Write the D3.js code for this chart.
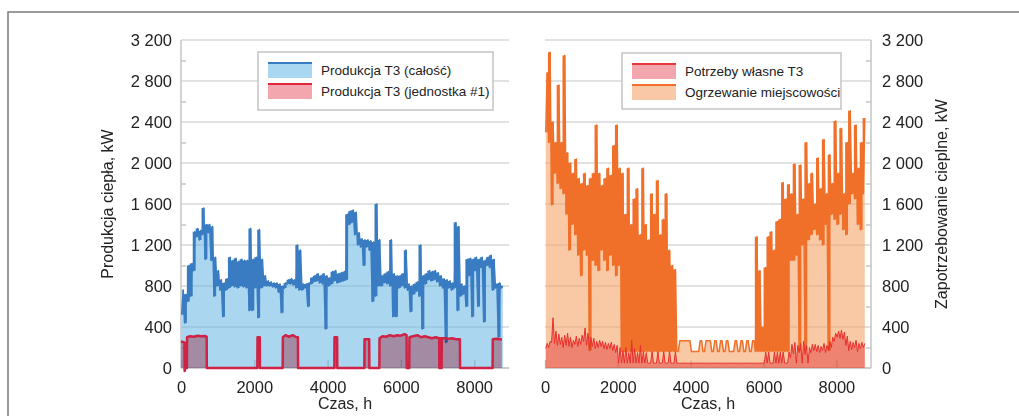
<!DOCTYPE html>
<html>
<head>
<meta charset="utf-8">
<script src="https://cdn.jsdelivr.net/npm/d3@7"></script>
<style>
  body { margin: 0; background: #fff; }
  svg { display: block; font-family: "Liberation Sans", Arial, sans-serif; }
</style>
</head>
<body>
<svg id="chart" width="1019" height="416"></svg>
<script>
// hourly data summarised as min / max per 80 h bin
const binHours = 80;
const yTicks = [0, 400, 800, 1200, 1600, 2000, 2400, 2800, 3200];
const yMinor = [200, 600, 1000, 1400, 1800, 2200, 2600, 3000];
const xTicks = [0, 2000, 4000, 6000, 8000];

// Produkcja T3 (całość)
const caloscLo = [520,440,650,700,950,1280,1250,1300,1060,1320,
  1050,700,800,760,500,760,780,800,790,780,
  800,790,780,560,560,780,490,780,800,800,
  800,790,780,740,540,780,820,820,810,780,
  760,760,780,600,820,840,850,830,820,380,
  800,820,850,830,840,850,860,1400,1420,1300,
  1200,1180,1000,1180,1150,650,700,800,800,830,
  820,800,500,500,780,800,780,760,550,720,
  750,700,380,820,860,850,860,840,800,780,
  250,780,760,780,560,700,720,600,900,500,
  950,600,980,450,1000,980,760,780,300,780];
const caloscHi = [760,720,1000,1020,1330,1360,1340,1560,1400,1400,
  1380,1080,950,860,830,870,1080,1050,1070,1040,
  1060,1050,1050,1360,1060,1080,1350,1060,900,850,
  840,830,830,820,800,830,860,870,860,1200,
  1150,820,820,830,880,900,920,900,920,900,
  880,940,950,920,930,940,1500,1530,1540,1520,
  1320,1260,1250,1250,1240,1230,1600,1250,900,920,
  940,1250,920,900,900,920,1150,820,800,820,
  840,1200,900,920,950,940,950,930,900,870,
  860,850,830,1420,1380,820,800,1060,1070,1060,
  1080,1060,1080,1050,1080,1100,1060,820,830,800];

// Produkcja T3 (jednostka #1)
const jedn1Hours = [0,95,100,110,160,165,250,350,450,550,
  650,700,705,2083,2088,2150,2155,2774,2779,2850,
  2950,3050,3150,3190,3195,4184,4189,4260,4265,5003,
  5008,5135,5140,5412,5417,5500,5600,5700,5800,5900,
  6000,6100,6155,6160,6228,6233,6330,6450,6550,6650,
  6750,6850,6950,7045,7050,7060,7065,7100,7105,7112,
  7117,7200,7300,7400,7500,7610,7615,8502,8507,8600,
  8700,8755];
const jedn1Values = [258,250,-30,0,0,300,310,305,315,310,
  312,305,0,0,300,300,0,0,300,320,
  305,320,300,300,0,0,300,300,0,0,
  280,280,0,0,290,310,305,320,310,320,
  315,330,320,0,0,300,310,320,300,310,
  300,290,300,290,0,0,290,290,0,0,
  290,290,285,290,280,280,0,0,280,285,
  280,280];

// Ogrzewanie miejscowości
const ogrzLo = [2300,2200,1590,1900,1800,1750,1700,1500,1150,1400,
  1300,1100,900,1150,1100,170,1050,1000,950,1150,
  1050,950,1100,1000,900,1000,160,160,160,160,
  160,160,160,160,160,160,160,160,160,160,
  160,160,160,160,160,160,265,265,265,265,
  160,160,160,265,160,265,265,160,265,160,
  265,160,265,160,160,265,160,265,160,265,
  160,265,160,160,160,160,160,160,160,160,
  160,160,160,160,1050,1050,1100,170,1200,170,
  1250,1300,1350,1300,1250,1200,1400,170,1500,1450,
  1400,1500,1350,1300,1600,1700,1650,1400,1350,1700];
const ogrzHi = [2880,3080,2400,2200,2760,2200,3050,2100,2000,1900,
  2040,1850,1800,1900,1780,1850,1900,2370,1900,1780,
  1850,1950,1880,2170,2370,1950,1900,1500,1950,1400,
  1650,1750,1300,1950,1400,1250,1700,1500,1830,1300,
  1450,1700,1150,1000,960,160,265,265,265,265,
  160,160,160,265,160,265,265,160,265,160,
  265,160,265,160,160,265,160,265,160,265,
  160,265,1280,950,400,980,1280,1330,1150,1430,
  1450,1810,1650,1790,1700,1990,1500,1980,1650,2200,
  1800,1900,1600,2050,1750,2230,1700,2080,1800,2410,
  1900,2340,1700,2200,2510,1900,2370,1950,2200,2440];

// Potrzeby własne T3
const wlasneLo = [190,200,250,240,220,230,200,220,210,200,
  230,210,230,260,220,200,210,190,200,210,
  190,180,190,170,150,47,47,47,47,47,
  47,47,47,47,47,47,47,47,47,47,
  47,47,47,47,47,47,47,47,47,47,
  47,47,47,47,47,47,47,47,47,47,
  47,47,47,47,47,47,47,47,47,47,
  47,47,47,47,47,47,47,47,47,47,
  47,47,47,47,100,140,47,150,47,130,
  47,150,170,160,150,170,150,180,200,260,
  300,290,280,220,170,180,200,160,190,200];
const wlasneHi = [240,260,490,360,330,300,320,340,300,270,
  310,290,320,390,340,300,290,260,270,260,
  250,240,250,230,220,200,170,200,150,270,
  190,150,220,160,150,47,160,47,160,47,
  160,47,160,47,160,47,47,47,47,47,
  47,47,47,47,47,47,47,47,47,47,
  47,47,47,47,47,47,47,47,47,47,
  47,47,47,47,47,155,155,47,155,155,
  155,155,47,155,230,250,220,240,260,220,
  200,230,230,220,210,240,220,260,300,340,
  360,370,350,310,260,250,270,240,250,240];

const svg = d3.select("#chart");
const fmt = d3.formatLocale({ decimal: ",", thousands: " ", grouping: [3], currency: ["", ""] }).format(",d");

// min then max of every bin, as a zigzag path
function zigzag(lo, hi) {
    const pts = [];
    lo.forEach((v, i) => {
        pts.push({ h: i * binHours + binHours * 0.25, v: v });
        pts.push({ h: i * binHours + binHours * 0.75, v: hi[i] });
    });
    return pts;
}

// one record per bin, for the min-max band
function bins(lo, hi) {
    return lo.map((v, i) => ({ h: i * binHours + binHours / 2, lo: v, hi: hi[i] }));
}

//outer frame
svg.append("path")
    .attr("d", "M8,416V12H1019")
    .attr("fill", "none")
    .attr("stroke", "#7a7a7a")
    .attr("stroke-width", 1.5);

function panel(x0, x1, side) {
    const x = d3.scaleLinear().domain([0, 8950]).range([x0, x1]);
    const y = d3.scaleLinear().domain([0, 3200]).range([368, 40]);
    const g = svg.append("g");

    //grid
    g.selectAll(".grid")
        .data(yTicks)
        .enter().append("line")
        .attr("x1", x0).attr("x2", x1)
        .attr("y1", d => y(d)).attr("y2", d => y(d))
        .attr("stroke", "#d9d9d9")
        .attr("stroke-width", 1.5);

    //axis lines
    const ax = side === "left" ? x0 : x1;
    g.append("line")
        .attr("x1", ax).attr("x2", ax).attr("y1", 40).attr("y2", 368)
        .attr("stroke", "#c4c4c4").attr("stroke-width", 1.5);
    g.append("line")
        .attr("x1", x0).attr("x2", x1).attr("y1", 368).attr("y2", 368)
        .attr("stroke", "#c4c4c4").attr("stroke-width", 1.5);

    const yAxis = side === "left" ? d3.axisLeft(y) : d3.axisRight(y);
    const yg = g.append("g")
        .attr("transform", `translate(${ax},0)`)
        .call(yAxis.tickValues(yTicks).tickFormat(fmt).tickSize(0).tickPadding(side === "left" ? 9 : 11));
    yg.select(".domain").remove();
    yg.selectAll("text").attr("font-size", 16.5).attr("fill", "#222").attr("font-family", null);

    const minorAxis = side === "left" ? d3.axisLeft(y) : d3.axisRight(y);
    const mg = g.append("g")
        .attr("transform", `translate(${ax},0)`)
        .call(minorAxis.tickValues(yMinor).tickFormat("").tickSize(-5));
    mg.select(".domain").remove();
    mg.selectAll("line").attr("stroke", "#c4c4c4").attr("stroke-width", 1.5);

    const xg = g.append("g")
        .attr("transform", "translate(0,368)")
        .call(d3.axisBottom(x).tickValues(xTicks).tickFormat(d3.format("d")).tickSize(-8).tickPadding(13));
    xg.select(".domain").remove();
    xg.selectAll("line").attr("stroke", "#c4c4c4").attr("stroke-width", 1.5);
    xg.selectAll("text").attr("font-size", 16.5).attr("fill", "#222").attr("font-family", null);

    g.append("text")
        .attr("x", (x0 + x1) / 2).attr("y", 409)
        .attr("text-anchor", "middle")
        .attr("font-size", 16).attr("fill", "#222")
        .text("Czas, h");

    return { x, y, g };
}

//left panel
const L = panel(181, 509, "left");
const areaL = d3.area().x(d => L.x(d.h)).y0(L.y(0)).y1(d => L.y(d.v));
const lineL = d3.line().x(d => L.x(d.h)).y(d => L.y(d.v));
const bandL = d3.area().curve(d3.curveStep).x(d => L.x(d.h)).y0(d => L.y(d.lo)).y1(d => L.y(d.hi));

const calosc = zigzag(caloscLo, caloscHi);
L.g.append("path").datum(calosc)
    .attr("d", areaL)
    .attr("fill", "rgb(100,180,228)").attr("fill-opacity", 0.55);
L.g.append("path").datum(bins(caloscLo, caloscHi))
    .attr("d", bandL)
    .attr("fill", "#3a7cc2");
L.g.append("path").datum(calosc)
    .attr("d", lineL)
    .attr("fill", "none").attr("stroke", "#3a7cc2").attr("stroke-width", 1.6)
    .attr("stroke-linejoin", "round");

const jedn1 = jedn1Hours.map((h, i) => ({ h: h, v: jedn1Values[i] }));
L.g.append("path").datum(jedn1)
    .attr("d", areaL)
    .attr("fill", "#f4a6ae").style("mix-blend-mode", "multiply");
L.g.append("path").datum(jedn1)
    .attr("d", lineL)
    .attr("fill", "none").attr("stroke", "#cf2244").attr("stroke-width", 2.5)
    .attr("stroke-linejoin", "round");

svg.append("text")
    .attr("transform", "translate(113,204) rotate(-90)")
    .attr("text-anchor", "middle")
    .attr("font-size", 16).attr("fill", "#222")
    .text("Produkcja ciepła, kW");

//right panel
const R = panel(545, 871, "right");
const areaR = d3.area().x(d => R.x(d.h)).y0(R.y(0)).y1(d => R.y(d.v));
const lineR = d3.line().x(d => R.x(d.h)).y(d => R.y(d.v));
const bandR = d3.area().curve(d3.curveStep).x(d => R.x(d.h)).y0(d => R.y(d.lo)).y1(d => R.y(d.hi));

const ogrz = zigzag(ogrzLo, ogrzHi);
R.g.append("path").datum(ogrz)
    .attr("d", areaR)
    .attr("fill", "rgb(245,165,107)").attr("fill-opacity", 0.6);
R.g.append("path").datum(bins(ogrzLo, ogrzHi))
    .attr("d", bandR)
    .attr("fill", "#f0702a");
R.g.append("path").datum(ogrz)
    .attr("d", lineR)
    .attr("fill", "none").attr("stroke", "#f0702a").attr("stroke-width", 1.5)
    .attr("stroke-linejoin", "round");

const wlasne = zigzag(wlasneLo, wlasneHi);
R.g.append("path").datum(wlasne)
    .attr("d", areaR)
    .attr("fill", "#f4a6ae").style("mix-blend-mode", "multiply");
R.g.append("path").datum(wlasne)
    .attr("d", lineR)
    .attr("fill", "none").attr("stroke", "#e8302c").attr("stroke-width", 1)
    .attr("stroke-linejoin", "round");

svg.append("text")
    .attr("transform", "translate(947,204) rotate(-90)")
    .attr("text-anchor", "middle")
    .attr("font-size", 16).attr("fill", "#222")
    .text("Zapotrzebowanie cieplne, kW");

//legends
function legend(x, y, w, h, items) {
    const lg = svg.append("g").attr("transform", `translate(${x},${y})`);
    lg.append("rect")
        .attr("width", w).attr("height", h)
        .attr("fill", "#fff").attr("stroke", "#c4c4c4").attr("stroke-width", 1.5);
    items.forEach((it, i) => {
        const ry = 10 + i * 21;
        lg.append("rect")
            .attr("x", 10).attr("y", ry).attr("width", 44).attr("height", 16)
            .attr("fill", it.fill);
        lg.append("line")
            .attr("x1", 10).attr("x2", 54).attr("y1", ry + 1).attr("y2", ry + 1)
            .attr("stroke", it.stroke).attr("stroke-width", 2);
        lg.append("text")
            .attr("x", 63).attr("y", ry + 13)
            .attr("font-size", 13.5).attr("fill", "#222")
            .text(it.label);
    });
}

legend(258, 52, 235, 58, [
    { label: "Produkcja T3 (całość)", fill: "#a9d6f0", stroke: "#3a7cc2" },
    { label: "Produkcja T3 (jednostka #1)", fill: "#f4a6ae", stroke: "#e0263a" }
]);
legend(622, 53, 219, 56, [
    { label: "Potrzeby własne T3", fill: "#f4a6ae", stroke: "#e8383a" },
    { label: "Ogrzewanie miejscowości", fill: "#f9c9a7", stroke: "#f0702a" }
]);
</script>
</body>
</html>
